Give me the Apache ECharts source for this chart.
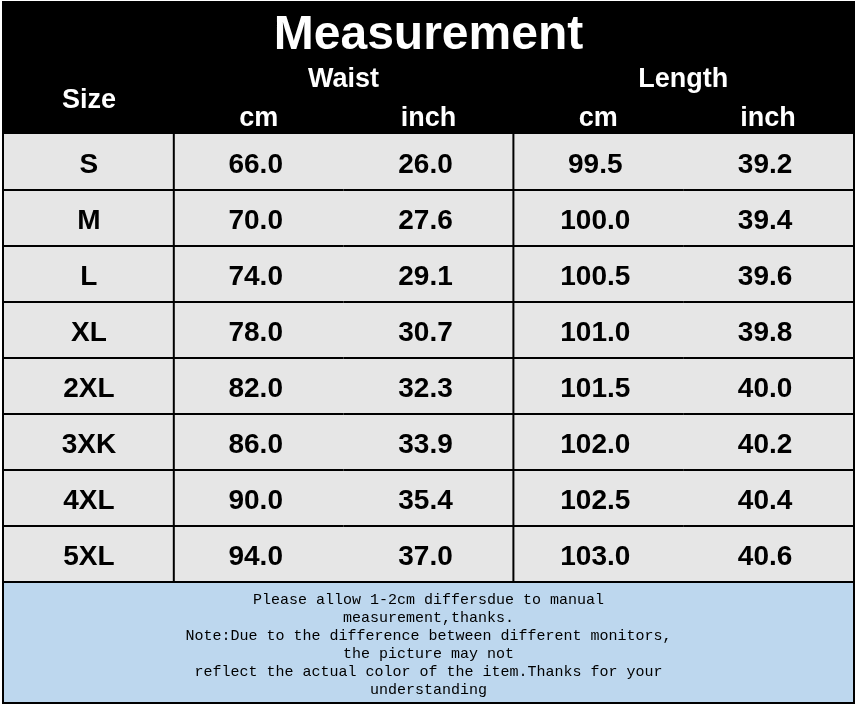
<!DOCTYPE html>
<html><head><meta charset="utf-8">
<script src="https://cdn.jsdelivr.net/npm/echarts@6/dist/echarts.min.js"></script>
<style>html,body{margin:0;padding:0;background:#fff}#c{width:857px;height:706px}</style>
</head><body><div id="c"></div>
<script>
// ---- data ----
const titleText = 'Measurement';
const sizeHeader = 'Size';
const groupHeaders = ['Waist', 'Length'];
const columnKeys = ['size', 'waistCm', 'waistInch', 'lengthCm', 'lengthInch'];
const unitHeaders = ['', 'cm', 'inch', 'cm', 'inch'];
const sizes = ['S', 'M', 'L', 'XL', '2XL', '3XK', '4XL', '5XL'];
const waistCm = [66.0, 70.0, 74.0, 78.0, 82.0, 86.0, 90.0, 94.0];
const waistInch = [26.0, 27.6, 29.1, 30.7, 32.3, 33.9, 35.4, 37.0];
const lengthCm = [99.5, 100.0, 100.5, 101.0, 101.5, 102.0, 102.5, 103.0];
const lengthInch = [39.2, 39.4, 39.6, 39.8, 40.0, 40.2, 40.4, 40.6];
const noteLines = [
  'Please allow 1-2cm differsdue to manual',
  'measurement,thanks.',
  'Note:Due to the difference between different monitors,',
  'the picture may not',
  'reflect the actual color of the item.Thanks for your',
  'understanding'
];

(function () {
  // ---- build cells ----
  const columns = [sizes, waistCm, waistInch, lengthCm, lengthInch];
  const cells = [];
  const cellText = [];
  sizes.forEach((s, r) => {
    columns.forEach((col, c) => {
      cells.push([c, r]);
      cellText.push(c === 0 ? col[r] : col[r].toFixed(1));
    });
  });

  const BOLD = '"Liberation Sans", Arial, sans-serif';
  const chart = echarts.init(document.getElementById('c'), null, {renderer: 'canvas'});

  const option = {
    backgroundColor: '#ffffff',
    animation: false,
    grid: {left: 4, right: 4, top: 134, height: 448, show: true, backgroundColor: '#e6e6e6', borderWidth: 0},
    xAxis: {
      type: 'category', data: columnKeys, position: 'top',
      axisLine: {show: false}, axisTick: {show: false}, splitLine: {show: false},
      axisLabel: {
        show: true, margin: 2, color: '#ffffff', fontFamily: BOLD, fontWeight: 'bold', fontSize: 27,
        formatter: (v, i) => unitHeaders[i]
      },
      z: 10
    },
    yAxis: {
      type: 'category', data: sizes, inverse: true,
      axisLine: {show: false}, axisTick: {show: false}, axisLabel: {show: false}, splitLine: {show: false}
    },
    series: [{
      type: 'custom',
      data: cells,
      z: 5,
      renderItem: function (params, api) {
        const c = api.value(0), r = api.value(1);
        const p = api.coord([c, r]);
        const sz = api.size([1, 1]);
        const x0 = p[0] - sz[0] / 2, y0 = p[1] - sz[1] / 2;
        const dx = c === 0 ? 0 : -3;
        const children = [
          {type: 'line', shape: {x1: x0, y1: y0 + sz[1], x2: x0 + sz[0], y2: y0 + sz[1]},
           style: {stroke: '#000', lineWidth: 2}},
          {type: 'text', style: {
            text: cellText[params.dataIndex], x: p[0] + dx, y: p[1] + 3,
            align: 'center', verticalAlign: 'middle', textAlign: 'center', textVerticalAlign: 'middle',
            font: 'bold 28px ' + BOLD, fill: '#000'}}
        ];
        if (c === 1 || c === 3) {
          children.push({type: 'line', shape: {x1: x0, y1: y0, x2: x0, y2: y0 + sz[1]},
            style: {stroke: '#000', lineWidth: 2}});
        }
        return {type: 'group', children: children};
      }
    }]
  };
  chart.setOption(option);

  const px = (c) => chart.convertToPixel({xAxisIndex: 0}, columnKeys[c]);
  const xSize = px(0);
  const xWaist = (px(1) + px(2)) / 2;
  const xLength = (px(3) + px(4)) / 2;
  const L = 3, R = 854, T = 2, B = 703;
  const mid = (L + R) / 2;

  function txt(text, x, y, color, font, extra) {
    return {
      type: 'text', z: 20,
      style: Object.assign({
        text: text, x: x, y: y, fill: color, font: font,
        align: 'center', verticalAlign: 'middle', textAlign: 'center', textVerticalAlign: 'middle'
      }, extra || {})
    };
  }

  chart.setOption({
    graphic: [
      {type: 'rect', z: 1, shape: {x: L, y: T, width: R - L, height: 134 - T}, style: {fill: '#000'}},
      {type: 'rect', z: 1, shape: {x: L, y: 582, width: R - L, height: B - 582}, style: {fill: '#bdd7ee'}},
      txt(titleText, mid, 36, '#fff', 'bold 48px ' + BOLD),
      txt(sizeHeader, xSize, 100.5, '#fff', 'bold 27px ' + BOLD),
      txt(groupHeaders[0], xWaist, 80, '#fff', 'bold 27px ' + BOLD),
      txt(groupHeaders[1], xLength, 80, '#fff', 'bold 27px ' + BOLD),
      txt(noteLines.join('\n'), mid, 591, '#000', '15px "Liberation Mono", "Courier New", monospace',
          {verticalAlign: 'top', textVerticalAlign: 'top', lineHeight: 18}),
      {type: 'line', z: 30, shape: {x1: L, y1: 582, x2: R, y2: 582}, style: {stroke: '#000', lineWidth: 2}},
      {type: 'rect', z: 30, shape: {x: L, y: T, width: R - L, height: B - T},
       style: {fill: 'none', stroke: '#000', lineWidth: 2}}
    ]
  });
})();
</script>
</body></html>
